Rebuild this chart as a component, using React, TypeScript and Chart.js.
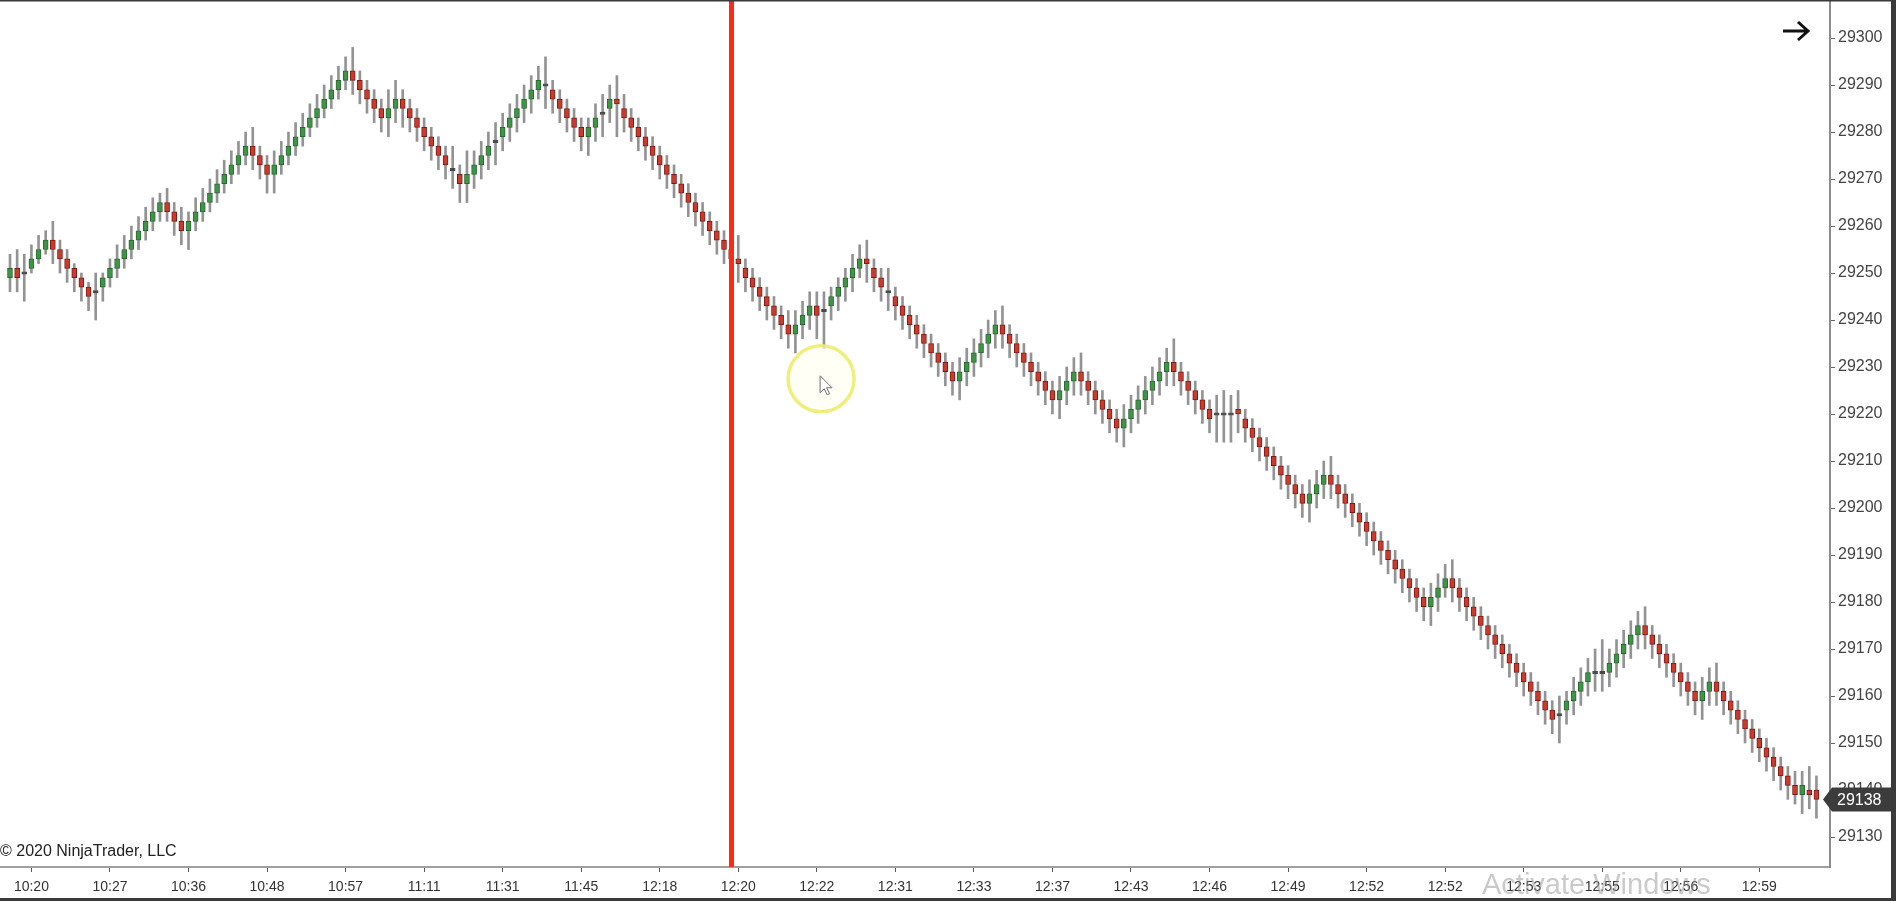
import React, { useEffect, useRef } from 'react';
import { Chart, registerables } from 'chart.js';

Chart.register(...registerables);

// Time labels shown under the x axis (one every 11 bars, first at bar 3)
const timeLabels = ['10:20','10:27','10:36','10:48','10:57','11:11','11:31','11:45','12:18','12:20','12:22','12:31','12:33','12:37','12:43','12:46','12:49','12:52','12:52','12:53','12:55','12:56','12:59'];
const firstLabelBar = 3;
const barsPerLabel = 11;

// Price axis ticks
const priceTicks = [29130,29140,29150,29160,29170,29180,29190,29200,29210,29220,29230,29240,29250,29260,29270,29280,29290,29300];
const lastPrice = 29138;
const markerBar = 101.05; // red vertical line
const cursorBar = 113.6;
const cursorPrice = 29227.5;

const opens = [
29249,29251,29250,29251,29253,29255,29257,29255,29253,29251,
29249,29247,29246,29247,29249,29251,29253,29255,29257,29259,
29261,29263,29265,29263,29261,29259,29261,29263,29265,29267,
29269,29271,29273,29275,29277,29275,29273,29271,29273,29275,
29277,29279,29281,29283,29285,29287,29289,29291,29293,29291,
29289,29287,29285,29283,29285,29287,29285,29283,29281,29279,
29277,29275,29272,29271,29269,29271,29273,29275,29278,29279,
29281,29283,29285,29287,29289,29290,29289,29287,29285,29283,
29281,29279,29281,29284,29285,29287,29285,29283,29281,29279,
29277,29275,29273,29271,29269,29267,29265,29263,29261,29259,
29257,29255,29253,29251,29249,29247,29245,29243,29241,29239,
29237,29239,29241,29243,29242,29243,29245,29247,29249,29251,
29253,29251,29249,29246,29245,29243,29241,29239,29237,29235,
29233,29231,29229,29227,29229,29231,29233,29235,29237,29239,
29237,29235,29233,29231,29229,29227,29225,29223,29225,29227,
29229,29227,29225,29223,29221,29219,29217,29219,29221,29223,
29225,29227,29229,29231,29229,29227,29225,29223,29221,29220,
29220,29220,29221,29219,29217,29215,29213,29211,29209,29207,
29205,29203,29201,29203,29205,29207,29205,29203,29201,29199,
29197,29195,29193,29191,29189,29187,29185,29183,29181,29179,
29181,29183,29185,29183,29181,29179,29177,29175,29173,29171,
29169,29167,29165,29163,29161,29159,29157,29156,29157,29159,
29161,29163,29165,29165,29165,29167,29169,29171,29173,29175,
29173,29171,29169,29167,29165,29163,29161,29159,29161,29163,
29161,29159,29157,29155,29153,29151,29149,29147,29145,29143,
29141,29139,29140,29140
];

const closes = [
29251,29249,29250,29253,29255,29257,29255,29253,29251,29249,
29247,29245,29246,29249,29251,29253,29255,29257,29259,29261,
29263,29265,29263,29261,29259,29261,29263,29265,29267,29269,
29271,29273,29275,29277,29275,29273,29271,29273,29275,29277,
29279,29281,29283,29285,29287,29289,29291,29293,29291,29289,
29287,29285,29283,29285,29287,29285,29283,29281,29279,29277,
29275,29273,29272,29269,29271,29273,29275,29277,29278,29281,
29283,29285,29287,29289,29291,29290,29287,29285,29283,29281,
29279,29281,29283,29284,29287,29286,29283,29281,29279,29277,
29275,29273,29271,29269,29267,29265,29263,29261,29259,29257,
29255,29253,29252,29249,29247,29245,29243,29241,29239,29237,
29239,29241,29243,29241,29242,29245,29247,29249,29251,29253,
29252,29249,29247,29246,29243,29241,29239,29237,29235,29233,
29231,29229,29227,29229,29231,29233,29235,29237,29239,29237,
29235,29233,29231,29229,29227,29225,29223,29225,29227,29229,
29227,29225,29223,29221,29219,29217,29219,29221,29223,29225,
29227,29229,29231,29229,29227,29225,29223,29221,29219,29220,
29220,29220,29220,29217,29215,29213,29211,29209,29207,29205,
29203,29201,29203,29205,29207,29205,29203,29201,29199,29197,
29195,29193,29191,29189,29187,29185,29183,29181,29179,29181,
29183,29185,29183,29181,29179,29177,29175,29173,29171,29169,
29167,29165,29163,29161,29159,29157,29155,29156,29159,29161,
29163,29165,29165,29165,29167,29169,29171,29173,29175,29173,
29171,29169,29167,29165,29163,29161,29159,29161,29163,29161,
29159,29157,29155,29153,29151,29149,29147,29145,29143,29141,
29139,29141,29139,29138
];

const highs = [
29254,29255,29254,29256,29258,29259,29261,29257,29255,29252,
29250,29248,29250,29250,29253,29256,29258,29260,29262,29264,
29266,29267,29268,29265,29264,29263,29266,29268,29270,29272,
29274,29276,29278,29280,29281,29277,29275,29276,29278,29280,
29282,29284,29286,29288,29290,29292,29294,29296,29298,29293,
29291,29289,29287,29289,29291,29289,29287,29285,29283,29281,
29279,29277,29277,29273,29276,29276,29278,29280,29282,29284,
29286,29288,29290,29292,29294,29296,29291,29289,29287,29285,
29283,29283,29286,29288,29290,29292,29288,29285,29283,29281,
29279,29277,29275,29273,29271,29269,29267,29265,29263,29261,
29259,29257,29258,29253,29251,29249,29247,29245,29243,29242,
29242,29244,29246,29246,29246,29247,29249,29251,29254,29256,
29257,29253,29251,29251,29247,29245,29243,29241,29239,29237,
29235,29233,29231,29232,29234,29236,29238,29240,29242,29243,
29239,29237,29235,29233,29231,29229,29227,29228,29230,29232,
29233,29229,29227,29225,29223,29221,29222,29224,29226,29228,
29230,29232,29234,29236,29231,29229,29227,29225,29223,29224,
29225,29224,29225,29221,29219,29217,29215,29213,29211,29209,
29207,29205,29206,29208,29210,29211,29207,29205,29203,29201,
29199,29197,29195,29193,29191,29189,29187,29185,29183,29184,
29186,29188,29189,29185,29183,29181,29179,29177,29175,29173,
29171,29169,29167,29165,29163,29161,29159,29160,29161,29164,
29166,29168,29170,29172,29170,29172,29174,29176,29178,29179,
29175,29173,29171,29169,29167,29165,29163,29164,29166,29167,
29163,29161,29159,29157,29155,29153,29151,29149,29147,29145,
29144,29144,29145,29143
];

const lows = [
29246,29246,29244,29250,29252,29254,29252,29250,29248,29246,
29244,29242,29240,29244,29247,29249,29251,29253,29255,29257,
29259,29261,29261,29258,29256,29255,29259,29261,29263,29265,
29267,29269,29271,29273,29272,29270,29267,29267,29271,29273,
29275,29277,29279,29281,29283,29285,29287,29289,29288,29286,
29284,29282,29280,29279,29282,29281,29280,29278,29276,29274,
29272,29270,29268,29265,29265,29268,29270,29272,29273,29276,
29278,29280,29282,29284,29287,29285,29284,29282,29280,29278,
29276,29275,29278,29279,29282,29279,29280,29278,29276,29274,
29272,29270,29268,29266,29264,29262,29260,29258,29256,29254,
29252,29250,29248,29246,29244,29242,29240,29238,29236,29234,
29233,29236,29238,29236,29234,29240,29242,29244,29246,29249,
29248,29246,29244,29242,29240,29238,29236,29234,29232,29230,
29228,29226,29224,29223,29226,29228,29230,29232,29234,29234,
29232,29230,29228,29226,29224,29222,29220,29219,29222,29224,
29224,29222,29220,29218,29216,29214,29213,29216,29218,29220,
29222,29224,29226,29226,29224,29222,29220,29218,29216,29214,
29214,29214,29216,29214,29212,29210,29208,29206,29204,29202,
29200,29198,29197,29200,29202,29202,29200,29198,29196,29194,
29192,29190,29188,29186,29184,29182,29180,29178,29176,29175,
29178,29181,29180,29178,29176,29174,29172,29170,29168,29166,
29164,29162,29160,29158,29156,29154,29152,29150,29154,29156,
29158,29160,29161,29161,29162,29164,29166,29168,29170,29170,
29168,29166,29164,29162,29160,29158,29156,29155,29158,29158,
29156,29154,29152,29150,29148,29146,29144,29142,29140,29138,
29137,29135,29136,29134
];

const FONT = '"Liberation Sans", Arial, sans-serif';
const UP_FILL = '#3f9447';
const UP_EDGE = '#2a6a30';
const DN_FILL = '#cc3a2e';
const DN_EDGE = '#7e1c14';
const DOJI = '#4a4a4a';

export default function App() {
  const ref = useRef<HTMLCanvasElement>(null);

  useEffect(() => {
    document.body.style.margin = '0';
    const canvas = ref.current!;
    const idx = opens.map((_, i) => i);
    const wickData = idx.map(i => ({ x: i, y: [lows[i], highs[i]] }));
    const bodyData = idx.map(i => {
      const o = opens[i], c = closes[i];
      if (o === c) return { x: i, y: [o - 0.25, o + 0.25] };
      return { x: i, y: [Math.min(o, c), Math.max(o, c)] };
    });
    const fills = idx.map(i => closes[i] > opens[i] ? UP_FILL : closes[i] < opens[i] ? DN_FILL : DOJI);
    const edges = idx.map(i => closes[i] > opens[i] ? UP_EDGE : closes[i] < opens[i] ? DN_EDGE : DOJI);
    const labelBars = timeLabels.map((_, i) => firstLabelBar + barsPerLabel * i);

    const overlay = {
      id: 'overlay',
      afterDatasetsDraw(chart: any) {
        const { ctx, chartArea, scales } = chart;
        const xs = scales.x, ys = scales.y;
        ctx.save();
        // red vertical line
        const lx = xs.getPixelForValue(markerBar);
        ctx.fillStyle = '#ff2a12';
        ctx.fillRect(lx - 2.5, 0, 5, chartArea.bottom);
        // yellow cursor highlight
        const cx = xs.getPixelForValue(cursorBar);
        const cy = ys.getPixelForValue(cursorPrice);
        ctx.beginPath();
        ctx.arc(cx, cy, 33, 0, Math.PI * 2);
        ctx.fillStyle = 'rgba(255,255,235,0.5)';
        ctx.fill();
        ctx.lineWidth = 3.5;
        ctx.strokeStyle = 'rgba(238,236,110,0.9)';
        ctx.stroke();
        // mouse pointer
        const px = cx - 1, py = cy - 3;
        ctx.beginPath();
        ctx.moveTo(px, py);
        ctx.lineTo(px, py + 17);
        ctx.lineTo(px + 4, py + 13);
        ctx.lineTo(px + 7, py + 19);
        ctx.lineTo(px + 9.5, py + 18);
        ctx.lineTo(px + 6.5, py + 12);
        ctx.lineTo(px + 12, py + 12);
        ctx.closePath();
        ctx.fillStyle = '#ffffff';
        ctx.fill();
        ctx.lineWidth = 1;
        ctx.strokeStyle = '#6d6d6d';
        ctx.stroke();
        ctx.restore();
      },
      afterDraw(chart: any) {
        const { ctx, width, height, scales } = chart;
        const ys = scales.y;
        ctx.save();
        // frame borders
        ctx.fillStyle = '#3a3a3a';
        ctx.fillRect(0, 0, width, 1.5);
        ctx.fillRect(width - 5, 0, 5, height);
        ctx.fillRect(0, height - 3, width, 3);
        // top-right arrow
        ctx.strokeStyle = '#111';
        ctx.lineWidth = 3;
        ctx.beginPath();
        ctx.moveTo(1783, 31);
        ctx.lineTo(1807, 31);
        ctx.moveTo(1798, 22);
        ctx.lineTo(1808, 31);
        ctx.lineTo(1798, 40);
        ctx.stroke();
        // last price marker
        const my = ys.getPixelForValue(lastPrice);
        ctx.fillStyle = '#3c3c3c';
        ctx.beginPath();
        ctx.moveTo(1823, my);
        ctx.lineTo(1832, my - 12);
        ctx.lineTo(1891, my - 12);
        ctx.lineTo(1891, my + 12);
        ctx.lineTo(1832, my + 12);
        ctx.closePath();
        ctx.fill();
        ctx.fillStyle = '#ffffff';
        ctx.font = '16px ' + FONT;
        ctx.textBaseline = 'middle';
        ctx.textAlign = 'left';
        ctx.fillText(String(lastPrice), 1837, my + 1);
        // copyright
        ctx.fillStyle = '#222';
        ctx.font = '16px ' + FONT;
        ctx.fillText('\u00a9 2020 NinjaTrader, LLC', 0, 852);
        // watermark
        ctx.fillStyle = 'rgba(150,150,150,0.5)';
        ctx.font = '29px ' + FONT;
        ctx.textBaseline = 'alphabetic';
        ctx.fillText('Activate Windows', 1482, 894);
        ctx.restore();
      }
    };

    const chart = new Chart(canvas, {
      type: 'bar',
      data: {
        datasets: [
          {
            data: bodyData as any,
            backgroundColor: fills,
            borderColor: edges,
            borderWidth: 1,
            borderSkipped: false,
            barThickness: 5,
            grouped: false,
            order: 0,
          } as any,
          {
            data: wickData as any,
            backgroundColor: '#939393',
            borderWidth: 0,
            barThickness: 2,
            grouped: false,
            order: 1,
          } as any,
        ],
      },
      options: {
        animation: false,
        responsive: false,
        devicePixelRatio: 1,
        layout: { padding: 0 },
        plugins: { legend: { display: false }, tooltip: { enabled: false } },
        scales: {
          x: {
            type: 'linear',
            min: -1.4,
            max: 254.9,
            offset: false,
            bounds: 'data',
            grid: { display: true, offset: false, drawOnChartArea: false, drawTicks: true, tickLength: 5, tickColor: '#555', color: '#555' },
            border: { display: true, color: '#a0a0a0', width: 2 },
            ticks: {
              autoSkip: false,
              maxRotation: 0,
              minRotation: 0,
              padding: 7,
              color: '#333',
              font: { family: FONT, size: 14 },
              callback: (_v: any, i: number) => timeLabels[i],
            },
            afterBuildTicks: (s: any) => { s.ticks = labelBars.map(v => ({ value: v })); },
            afterFit: (s: any) => { s.height = 34; s.paddingLeft = 0; s.paddingRight = 0; },
          } as any,
          y: {
            type: 'linear',
            position: 'right',
            min: 29123.62,
            max: 29308.09,
            bounds: 'data',
            grid: { display: true, offset: false, drawOnChartArea: false, drawTicks: true, tickLength: 5, tickColor: '#666', color: '#666' },
            border: { display: true, color: '#8c8c8c', width: 2 },
            ticks: {
              autoSkip: false,
              padding: 3,
              color: '#444',
              font: { family: FONT, size: 16 },
              callback: (v: any) => String(v),
            },
            afterBuildTicks: (s: any) => { s.ticks = priceTicks.map(v => ({ value: v })); },
            afterFit: (s: any) => { s.width = 66; s.paddingTop = 0; s.paddingBottom = 0; },
          } as any,
        },
      },
      plugins: [overlay],
    });
    return () => chart.destroy();
  }, []);

  return (
    <div style={{ width: 1896, height: 901, background: '#ffffff' }}>
      <canvas ref={ref} width={1896} height={901} style={{ display: 'block' }} />
    </div>
  );
}
